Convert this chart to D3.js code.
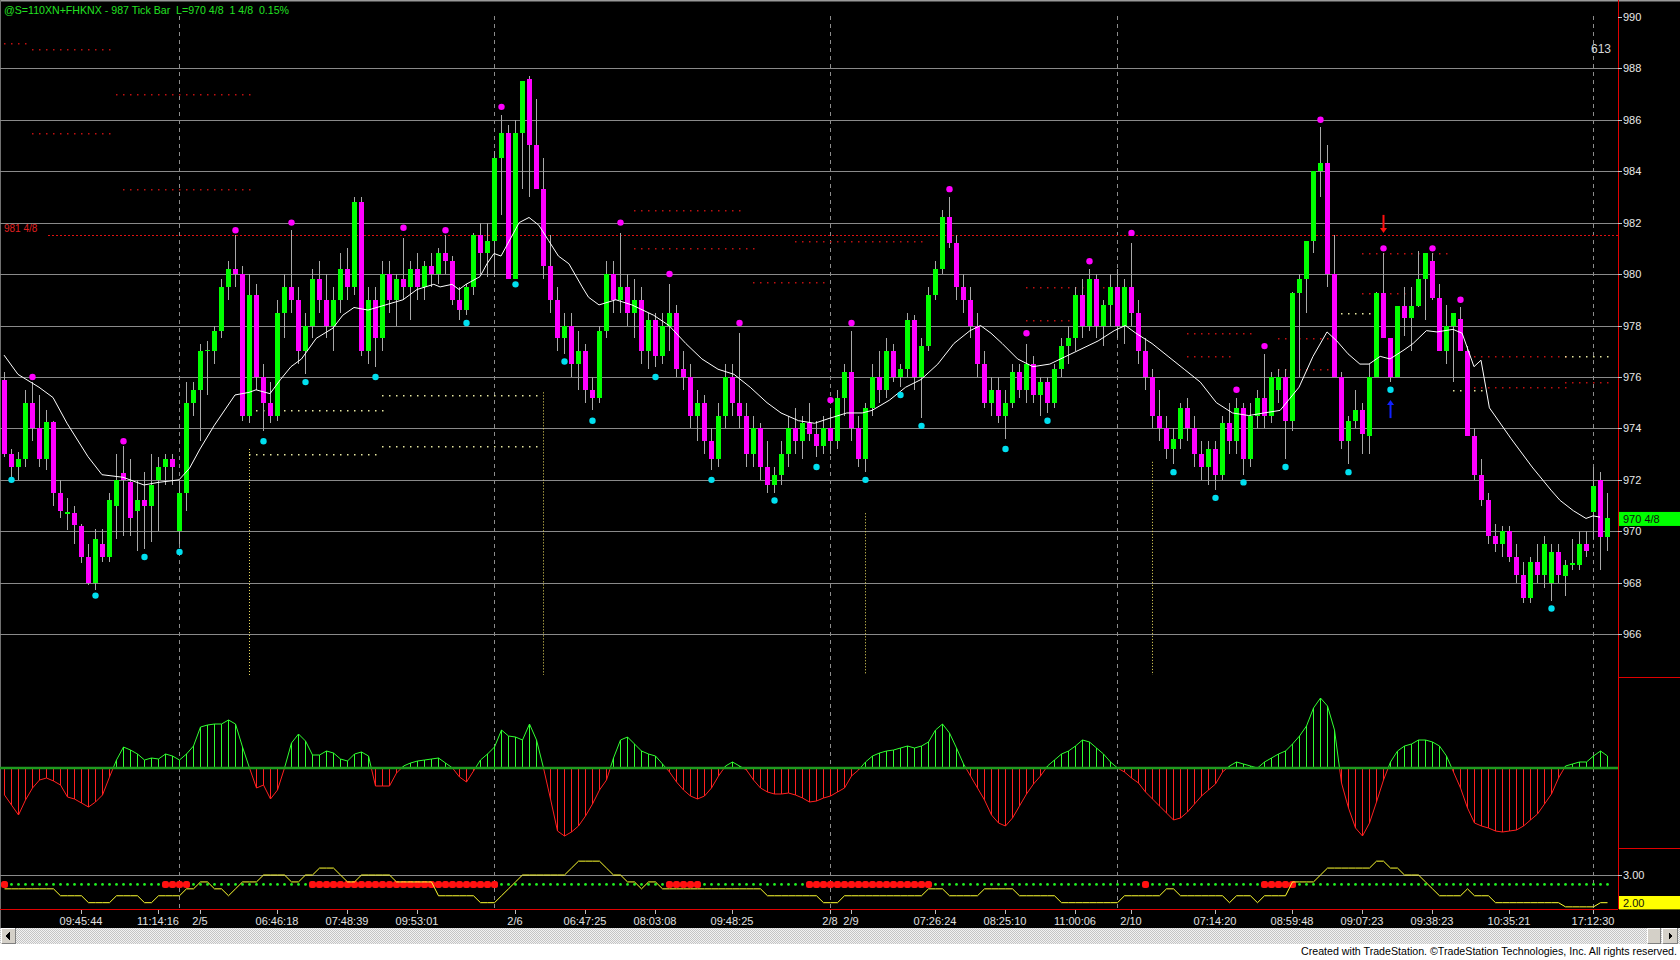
<!DOCTYPE html>
<html><head><meta charset="utf-8">
<script src="https://cdn.jsdelivr.net/npm/d3@7"></script>
<style>body{margin:0;background:#000;overflow:hidden}svg{display:block}text{white-space:pre}</style>
</head><body>
<svg id="chart" width="1680" height="960"></svg>
<script>
// ---------------- DATA ----------------
const title = "@S=110XN+FHKNX - 987 Tick Bar  L=970 4/8  1 4/8  0.15%";
const opens = [
975.9,973.0,972.5,972.8,975.0,974.0,972.8,974.25,971.5,970.7,
970.7,970.2,969.0,968.0,969.5,969.0,971.0,972.25,971.9,970.8,
971.2,971.0,972.0,972.5,972.8,970.0,971.5,975.0,975.5,977.0,
977.0,977.8,979.5,980.2,980.0,974.5,979.2,976.0,975.0,974.5,
978.5,979.5,979.0,977.0,978.0,979.8,979.0,978.0,979.0,980.2,
979.5,982.8,977.0,979.0,977.5,980.0,979.0,979.8,979.5,980.2,
979.5,980.3,980.0,980.8,980.5,979.0,978.6,979.5,981.5,980.8,
981.3,984.5,985.5,979.8,985.5,987.6,985.0,983.3,980.3,979.0,
977.5,978.0,976.5,977.0,975.5,975.2,977.8,980.0,979.0,979.5,
978.5,979.0,977.0,978.2,976.8,978.0,978.5,976.3,976.0,974.5,
975.0,973.5,972.8,974.5,976.0,975.0,974.5,973.0,974.0,972.5,
971.8,972.2,973.0,974.0,973.5,974.2,973.8,973.3,974.0,973.5,
975.2,976.2,974.0,972.8,974.8,976.0,975.5,977.0,976.0,976.3,
978.2,976.0,977.2,979.2,980.2,982.2,981.2,979.5,979.0,978.0,
976.5,975.0,975.5,974.5,975.0,976.2,975.5,976.5,975.3,975.8,
975.0,976.3,977.2,977.5,979.2,978.0,979.8,978.0,978.8,979.5,
978.0,979.5,978.5,977.0,976.0,974.5,974.0,973.2,973.6,974.8,
974.0,973.0,972.5,973.2,972.2,974.2,973.5,974.8,972.8,974.5,
975.2,974.5,975.5,976.0,974.3,979.25,979.8,981.3,984.0,984.3,
980.0,976.0,973.5,974.3,974.7,973.7,976.0,979.25,977.5,976.0,
978.75,978.3,978.75,979.8,980.5,979.05,977.0,978.0,978.25,977.0,
973.7,972.2,971.2,969.8,969.5,970.0,969.0,968.3,967.4,968.8,
968.3,968.0,969.2,968.25,968.7,968.7,969.5,970.76,972.0,969.76];
const highs = [
976.2,973.2,973.1,975.5,975.8,975.3,974.7,974.3,972.0,971.3,
971.0,970.3,969.5,970.1,970.1,971.5,973.0,973.3,972.8,972.0,
972.3,973.0,972.9,973.0,973.0,972.0,975.8,975.8,977.3,977.4,
978.0,979.8,980.5,981.5,980.3,980.0,979.6,976.5,975.8,979.0,
980.0,981.7,979.5,978.5,980.2,980.5,980.0,979.5,980.8,981.0,
983.0,983.0,979.5,979.5,980.5,980.5,980.0,981.4,980.5,980.8,
980.5,980.8,981.0,981.5,980.7,979.5,979.6,981.6,982.0,982.0,
984.8,986.2,985.8,986.0,987.5,987.7,986.8,984.5,981.5,979.5,
978.5,978.5,977.8,977.3,976.0,978.0,980.5,980.5,981.6,980.0,
979.8,979.5,978.5,978.5,978.5,979.6,978.8,977.0,976.5,975.5,
975.3,974.0,975.0,976.5,976.5,977.7,975.0,974.5,974.2,973.5,
972.5,973.5,974.5,974.8,974.5,975.0,974.3,974.5,974.8,975.5,
976.5,977.8,974.5,975.0,976.5,977.0,977.5,977.3,976.5,978.5,
978.4,977.5,979.5,980.5,982.5,983.0,981.5,980.0,979.5,978.5,
977.0,976.0,976.0,975.5,976.5,976.5,977.3,976.8,976.0,976.0,
976.5,977.5,978.0,979.5,979.8,980.2,980.0,979.0,980.0,980.2,
979.8,981.2,979.0,977.5,976.3,975.5,974.5,974.0,975.0,975.2,
974.5,973.5,973.5,973.5,974.5,975.0,975.2,975.0,975.0,975.5,
976.9,976.2,976.3,976.3,979.3,980.0,981.3,984.0,985.7,985.0,
981.5,976.2,974.5,975.5,975.0,976.5,979.3,980.8,977.5,978.75,
979.5,979.5,980.9,980.8,980.8,979.6,978.8,978.5,978.7,977.2,
974.0,972.8,971.5,970.3,970.2,970.2,969.5,968.8,969.0,969.5,
969.8,969.5,969.5,968.9,969.7,970.0,970.0,972.5,972.3,971.5];
const lows = [
972.9,972.1,972.0,972.5,973.5,972.5,972.4,971.0,970.5,970.05,
969.5,968.75,967.9,967.7,968.8,968.8,969.7,969.8,969.8,969.25,
969.3,969.6,970.0,971.8,971.8,969.5,970.8,974.5,973.5,975.3,
976.5,977.5,979.0,979.5,974.3,974.2,975.5,973.9,974.2,974.3,
977.5,978.5,976.5,976.1,977.5,978.5,977.5,977.0,978.5,979.0,
979.2,976.8,976.5,976.4,977.0,978.5,978.0,979.0,978.2,979.0,
979.0,979.5,979.6,980.0,978.8,978.2,978.4,979.2,980.0,979.9,
979.9,982.3,979.8,979.8,983.3,983.0,983.3,979.8,978.5,977.0,
976.9,976.0,975.5,975.0,974.7,975.0,977.5,978.5,978.5,978.0,
977.5,976.5,976.3,976.4,976.5,977.0,976.0,975.5,974.0,973.5,
973.0,972.4,972.5,974.0,974.5,974.0,972.5,972.5,972.0,971.5,
971.5,971.8,972.5,973.0,972.8,973.5,972.9,973.0,973.0,973.2,
974.5,973.5,972.5,972.3,974.5,975.0,975.2,975.8,975.6,976.0,
975.5,974.4,977.0,979.0,980.0,981.0,979.0,978.5,977.5,976.0,
974.8,974.5,974.2,973.6,974.8,975.2,975.0,975.0,974.5,974.6,
974.8,976.0,976.5,977.0,977.5,977.8,977.5,977.2,978.0,977.5,
977.3,978.0,976.5,975.5,974.0,973.5,972.8,972.6,973.2,973.5,
972.5,972.0,971.8,971.6,972.0,973.0,973.0,972.2,972.5,974.0,
974.0,974.2,975.0,972.8,973.9,976.0,978.5,980.8,983.0,979.5,
976.0,973.2,972.6,974.0,973.0,973.0,976.0,977.5,975.8,976.0,
977.6,977.0,978.7,978.2,979.0,977.0,976.5,975.8,977.0,973.7,
972.0,971.0,969.5,969.2,969.0,968.8,968.0,967.2,967.2,968.0,
967.8,967.3,968.0,967.5,968.5,968.5,969.0,969.7,968.5,969.25];
const closes = [
973.0,972.5,972.8,975.0,974.0,972.8,974.25,971.5,970.8,970.75,
970.25,969.0,968.0,969.7,969.0,971.2,972.0,972.0,970.5,971.2,
971.0,971.8,972.5,972.8,972.5,971.5,975.0,975.5,977.0,977.05,
977.8,979.5,980.2,980.0,974.5,979.2,976.0,975.0,974.5,978.5,
979.5,979.0,977.0,978.0,979.8,979.0,978.0,979.0,980.2,979.5,
982.8,977.0,979.0,977.5,980.0,979.0,979.8,979.5,980.2,979.5,
980.3,980.0,980.8,980.5,979.0,978.6,979.5,981.5,980.8,981.3,
984.5,985.5,979.8,985.5,987.5,985.0,983.3,980.3,979.0,977.5,
978.0,976.5,977.0,975.5,975.2,977.8,980.0,979.0,979.5,978.5,
979.0,977.0,978.2,976.8,978.0,978.5,976.3,976.0,974.5,975.0,
973.5,972.8,974.5,976.0,975.0,974.5,973.0,974.0,972.5,971.8,
972.2,973.0,974.0,973.5,974.2,973.8,973.3,974.0,973.5,975.2,
976.2,974.0,972.8,974.8,976.0,975.5,977.0,976.0,976.3,978.2,
976.0,977.2,979.2,980.2,982.2,981.2,979.5,979.0,978.0,976.5,
975.0,975.5,974.5,975.0,976.2,975.5,976.5,975.3,975.8,975.0,
976.3,977.2,977.5,979.2,978.0,979.8,978.0,978.8,979.5,978.0,
979.5,978.5,977.0,976.0,974.5,974.0,973.2,973.6,974.8,974.0,
973.0,972.5,973.2,972.2,974.2,973.5,974.8,972.8,974.5,975.2,
974.5,976.0,976.0,974.3,979.25,979.8,981.3,984.0,984.3,980.0,
976.0,973.5,974.3,974.7,973.8,976.0,979.25,977.5,976.0,978.75,
978.3,978.75,979.8,980.8,979.05,977.0,978.0,978.5,977.0,973.7,
972.2,971.2,969.8,969.5,970.0,969.0,968.3,967.4,968.8,968.3,
969.5,969.2,968.3,968.7,968.75,969.5,969.25,971.76,969.76,970.5];

// moving average: [bar, price]
const maPoints = [
[0,976.85],[2,976.1],[5,975.6],[7,975.2],[9,974.2],[12,972.9],[14,972.2],[17,972.1],[20,971.8],[22,971.9],
[25,972.0],[26.5,972.45],[28,973.2],[30,974.1],[33,975.3],[35,975.4],[36,975.5],[38,975.35],[39.5,975.9],[41,976.4],
[42.5,976.7],[44.6,977.5],[47,977.9],[48.4,978.4],[50,978.7],[52,978.6],[54.5,978.8],[57,979.0],[59,979.4],[61.4,979.6],
[62.3,979.5],[64,979.6],[65,979.4],[66,979.6],[68,979.9],[69,980.4],[70,980.8],[71,980.7],[72,981.2],[73.6,982.0],
[75,982.2],[76.4,981.9],[77.8,981.3],[79.2,980.7],[80.7,980.4],[82.6,979.5],[83.5,979.1],[85,978.8],[87.4,979.0],[89.7,978.8],
[92.8,978.4],[95,978.0],[97.4,977.3],[99.7,976.7],[102,976.3],[104.3,976.1],[106.6,975.6],[109,975.0],[111,974.6],[113.5,974.3],
[115.8,974.2],[118,974.4],[120.4,974.6],[122.6,974.6],[124,974.7],[126.5,975.1],[128.8,975.6],[131,975.9],[133.4,976.5],[135.7,977.3],
[138,977.8],[139.5,978.0],[141,977.7],[142.6,977.3],[144.8,976.7],[147,976.4],[149.4,976.5],[151.7,976.8],[154,977.1],[156.3,977.4],
[158.6,977.8],[160.2,978.0],[161.7,977.7],[164,977.3],[166.3,976.8],[168.6,976.3],[170.9,975.8],[173.2,975.0],[175.5,974.6],[177.8,974.5],
[180,974.6],[182.3,974.7],[185,975.6],[187,976.8],[189,977.75],[190.4,977.4],[192,976.9],[193.7,976.5],[195,976.5],[196.6,976.8],
[198,976.7],[200,977.05],[201.3,977.3],[203.2,977.8],[204.7,977.75],[207,977.85],[208.3,977.7],[210,976.4],[211,976.65],[212.2,974.8],
[215.3,973.6],[218.3,972.5],[221,971.6],[222.3,971.2],[224.2,970.8],[226,970.5],[227,970.6],[228,970.55]];

// swing markers [bar, price]
const swingHighs = [[4,976.0],[17,973.5],[33,981.7],[41,982.0],[57,981.8],[63,981.7],[71,986.5],[88,982.0],[95,980.0],[105,978.1],
[118,975.1],[121,978.1],[135,983.3],[146,977.7],[155,980.5],[161,981.6],[176,975.5],[180,977.2],[188,986.0],[197,981.0],[204,981.0],[208,979.0]];
const swingLows = [[1,972.0],[13,967.5],[20,969.0],[25,969.2],[37,973.5],[43,975.8],[53,976.0],[66,978.1],[73,979.6],[80,976.6],
[84,974.3],[93,976.0],[101,972.0],[110,971.2],[116,972.5],[123,972.0],[128,975.3],[131,974.1],[143,973.2],[149,974.3],
[167,972.3],[173,971.3],[177,971.9],[183,972.5],[192,972.3],[198,975.5],[221,967.0]];
// signal arrows [bar, tailPrice, tipPrice]
const sellArrows = [[197,982.3,981.6]];
const buyArrows = [[198,974.4,975.1]];

// dotted support / resistance levels [fromBar, toBar, price]
const redLevels = [[0,3,989.0],[4,15,988.75],[16,35,987.0],[4,15,985.5],[17,35,983.3],[90,105,982.5],[90,107,981.0],[107,117,979.7],
[113,131,981.3],[146,160,979.5],[146,156,978.2],[169,178,977.7],[169,175,976.8],[182,189,977.5],[182,189,976.3],[194,206,980.8],
[194,200,979.25],[209,223,976.8],[209,223,975.6],[223,229,975.8]];
const paleLevels = [[35,54,974.7],[35,53,973.0],[54,76,975.3],[54,76,973.3],[191,195,978.5],[207,211,975.5],[223,229,976.8]];
const vertLevels = [[35,973.2],[77,975.4],[123,970.7],[164,972.7]];
const refLine = 981.5, refLabel = "981 4/8";
const lastPrice = 970.5, lastLabel = "970 4/8";
const barCount = "613";

// oscillator, one value per bar
const osc = [
-2.7,-3.7,-4.7,-3.2,-2.0,-1.2,-1.0,-1.3,-1.7,-2.9,
-3.1,-3.5,-3.9,-3.4,-2.7,-0.9,0.8,2.1,1.8,1.4,
0.8,1.0,0.9,1.4,1.2,0.8,1.4,2.2,4.1,4.3,
4.4,4.4,4.8,4.4,2.1,0.0,-2.0,-1.7,-3.1,-2.2,
0.0,2.5,3.4,2.7,1.3,1.3,1.7,1.5,0.9,0.7,
1.4,1.6,1.2,-1.8,-1.8,-1.8,-0.5,0.2,0.5,0.7,
0.8,0.9,1.0,0.5,0.0,-0.9,-1.4,-0.3,0.8,1.4,
2.1,3.8,3.2,3.1,2.8,4.4,2.8,0.0,-3.1,-6.3,
-6.8,-6.4,-5.8,-4.8,-3.6,-2.2,-1.2,1.0,2.8,3.1,
2.4,1.7,1.4,1.2,0.4,-0.4,-1.4,-2.2,-2.8,-3.1,
-2.8,-2.0,-0.8,0.2,0.6,0.2,-0.2,-1.2,-2.0,-2.4,
-2.6,-2.6,-2.5,-2.7,-3.0,-3.4,-3.3,-3.0,-2.8,-2.4,
-2.0,-0.8,-0.2,0.6,1.2,1.5,1.7,1.8,2.0,2.2,
2.0,2.2,2.6,3.8,4.4,3.5,2.0,0.4,-0.8,-2.0,
-3.2,-4.7,-5.5,-5.8,-5.0,-3.8,-2.6,-1.6,-0.8,0.2,
0.8,1.4,1.7,2.2,2.8,2.6,2.0,1.4,0.6,0.0,
-0.4,-1.0,-1.5,-2.4,-3.1,-3.8,-4.5,-5.2,-5.0,-4.4,
-3.6,-2.8,-2.2,-1.6,-0.4,0.2,0.6,0.4,0.2,0.0,
0.6,1.0,1.4,1.7,2.4,3.2,4.2,6.0,7.0,6.2,
3.8,-1.5,-4.0,-6.0,-6.8,-5.5,-3.4,-1.2,0.6,1.7,
2.2,2.4,2.8,2.8,2.6,2.2,1.2,-0.4,-2.0,-4.0,
-5.5,-5.8,-6.0,-6.3,-6.4,-6.3,-6.2,-5.8,-5.2,-4.6,
-3.6,-2.6,-1.0,0.2,0.4,0.6,0.6,1.2,1.7,1.2];

// lower study: stepped line, one value per bar
const stepLine = [
2.5,2.5,2.5,2.5,2.5,2.5,2.5,2.5,2.25,2.25,
2.25,2.25,2,2,2,2,2.25,2.25,2.25,2.25,
2,2,2.25,2.25,2.25,2.25,2.5,2.5,2.75,2.75,
2.5,2.5,2.25,2.5,2.75,2.75,2.75,3,3,3,
3,2.75,2.75,3,3,3.25,3.25,3.25,3,2.75,
2.75,3,3,3,3,3,2.75,2.75,2.75,2.75,
2.75,2.75,2.25,2.25,2.25,2.25,2.25,2.25,2,2,
2,2.25,2.5,2.75,3,3,3,3,3,3,
3,3.25,3.5,3.5,3.5,3.5,3.25,3,3,2.75,
2.75,2.5,2.75,2.75,2.5,2.5,2.5,2.5,2.5,2.5,
2.5,2.5,2.5,2.5,2.5,2.5,2.5,2.5,2.5,2.25,
2.25,2.25,2.25,2.25,2.25,2.25,2.25,2,2,2,
2.25,2.25,2.25,2.25,2.25,2.25,2.25,2.25,2.25,2.25,
2.25,2.25,2.5,2.5,2.5,2.25,2.25,2.25,2.25,2.25,
2.5,2.5,2.5,2.5,2.5,2.25,2.25,2.25,2.25,2.25,
2.25,2,2,2,2,2,2,2,2,2,
2.25,2.25,2.25,2.25,2.25,2.25,2.5,2.5,2.25,2.25,
2.25,2.25,2.25,2.25,2.25,2,2.25,2.25,2.25,2,
2.25,2.25,2.25,2.25,2.75,2.75,2.75,2.75,3,3.25,
3.25,3.25,3.25,3.25,3.25,3.25,3.5,3.5,3.25,3.25,
3,3,3,2.75,2.5,2.25,2.25,2.25,2.25,2.5,
2.25,2.25,2.25,2,2,2,2,2,2,2,
2,2,2,1.85,1.85,1.85,1.85,1.85,2,2];
const dotLevel = 2.66;
// bars where the dotted state is red: [fromBar, toBar]
const redRuns = [[0,0],[23,26],[44,70],[95,99],[115,132],[163,163],[180,184]];

const priceTicks = [990,988,986,984,982,980,978,976,974,972,970,968,966];
const lowerTick = 3.00, lowerLast = 2.00;
const dayBreaks = [25,70,118,159,227];
const timeTickBars = [11,22,28,39,49,59,73,83,93,104,118,121,133,143,153,161,173,184,194,204,215,227];
const timeTickLabels = ["09:45:44","11:14:16","2/5","06:46:18","07:48:39","09:53:01","2/6","06:47:25","08:03:08","09:48:25","2/8","2/9",
"07:26:24","08:25:10","11:00:06","2/10","07:14:20","08:59:48","09:07:23","09:38:23","10:35:21","17:12:30"];
const footer = "Created with TradeStation. \u00A9TradeStation Technologies, Inc. All rights reserved.";

// ---------------- DRAW ----------------
const FONT = '"Liberation Sans", Arial, Helvetica, sans-serif';
const svg = d3.select('#chart');
const AXX = 1618;
const N = closes.length;
const X = d3.scaleLinear().domain([0, 229]).range([4, 1607]);
const Y = d3.scaleLinear().domain([966, 990]).range([634.2, 16.8]);
const YO = d3.scaleLinear().domain([-7, 7]).range([838, 698]);
const YB = d3.scaleLinear().domain([2, 3]).range([902.7, 875]);
const px = v => Math.round(v) + 0.5;

const defs = svg.append('defs');
defs.append('clipPath').attr('id','mainClip').append('rect').attr('x',0).attr('y',0).attr('width',AXX).attr('height',677);
const pat = defs.append('pattern').attr('id','hatch').attr('width',2).attr('height',2).attr('patternUnits','userSpaceOnUse');
pat.append('rect').attr('width',2).attr('height',2).attr('fill','#f2f2f2');
pat.append('rect').attr('width',1).attr('height',1).attr('fill','#c4c4c4');
pat.append('rect').attr('x',1).attr('y',1).attr('width',1).attr('height',1).attr('fill','#c4c4c4');

svg.append('rect').attr('width',1680).attr('height',960).attr('fill','#000');
svg.append('rect').attr('x',0).attr('y',943).attr('width',1680).attr('height',17).attr('fill','#fff');
// frame
svg.append('line').attr('x1',0).attr('x2',1680).attr('y1',0.5).attr('y2',0.5).attr('stroke','#9a9a9a').attr('stroke-width',2);
svg.append('line').attr('x1',0.5).attr('x2',0.5).attr('y1',0).attr('y2',928).attr('stroke','#707070');

// grid
const gGrid = svg.append('g').attr('shape-rendering','crispEdges');
gGrid.selectAll('line.g').data(priceTicks.filter(p => p < 990)).join('line')
  .attr('x1',0).attr('x2',AXX).attr('y1',d=>px(Y(d))).attr('y2',d=>px(Y(d))).attr('stroke','#8a8a8a');
gGrid.append('line').attr('x1',0).attr('x2',AXX).attr('y1',px(YB(lowerTick))).attr('y2',px(YB(lowerTick))).attr('stroke','#8a8a8a');
// day breaks
gGrid.selectAll('line.d').data(dayBreaks).join('line')
  .attr('x1',d=>px(X(d))).attr('x2',d=>px(X(d))).attr('y1',16).attr('y2',909)
  .attr('stroke','#8c8c8c').attr('stroke-dasharray','4,4');

const gMain = svg.append('g').attr('clip-path','url(#mainClip)');
// dotted levels (one dot per bar)
function levelDots(levels, color) {
  const pts = [];
  levels.forEach(([a,b,p]) => { for (let i=a;i<=b;i++) pts.push([i,p]); });
  gMain.append('g').selectAll('rect').data(pts).join('rect')
    .attr('x',d=>Math.round(X(d[0]))).attr('y',d=>Math.round(Y(d[1]))).attr('width',1.5).attr('height',1.5).attr('fill',color);
}
levelDots(redLevels,'#c01010');
levelDots(paleLevels,'#e8e8a0');
gMain.append('g').selectAll('line').data(vertLevels).join('line')
  .attr('x1',d=>px(X(d[0]))).attr('x2',d=>px(X(d[0]))).attr('y1',d=>Y(d[1])).attr('y2',675)
  .attr('stroke','#f0e060').attr('stroke-width',1).attr('stroke-dasharray','1,2');
// reference line
gMain.append('line').attr('x1',48).attr('x2',AXX).attr('y1',px(Y(refLine))).attr('y2',px(Y(refLine)))
  .attr('stroke','#e01010').attr('stroke-dasharray','2,2');
svg.append('text').attr('x',4).attr('y',Y(refLine)-3).attr('fill','#e02020').attr('font-family',FONT).attr('font-size',10).text(refLabel);

// candles
const idx = d3.range(N);
gMain.append('g').attr('shape-rendering','crispEdges').selectAll('line').data(idx).join('line')
  .attr('x1',i=>px(X(i))).attr('x2',i=>px(X(i))).attr('y1',i=>Y(highs[i])).attr('y2',i=>Y(lows[i]))
  .attr('stroke','#a8a8a8');
gMain.append('g').attr('shape-rendering','crispEdges').selectAll('rect').data(idx).join('rect')
  .attr('x',i=>Math.round(X(i))-2).attr('width',5)
  .attr('y',i=>Y(Math.max(opens[i],closes[i])))
  .attr('height',i=>Math.max(1.5, Math.abs(Y(opens[i])-Y(closes[i]))))
  .attr('fill',i=>closes[i]>=opens[i] ? '#00ff00' : '#ff00ff');
// MA
gMain.append('path').datum(maPoints).attr('fill','none').attr('stroke','#ffffff').attr('stroke-width',1)
  .attr('d', d3.line().x(d=>X(d[0])).y(d=>Y(d[1])));
// swing markers
gMain.append('g').selectAll('circle').data(swingHighs).join('circle')
  .attr('cx',d=>X(d[0])+0.5).attr('cy',d=>Y(d[1])).attr('r',3.2).attr('fill','#ff00ff');
gMain.append('g').selectAll('circle').data(swingLows).join('circle')
  .attr('cx',d=>X(d[0])+0.5).attr('cy',d=>Y(d[1])).attr('r',3.2).attr('fill','#00e0f0');
// arrows
function arrow(list, color) {
  list.forEach(([b,tail,tip]) => {
    const xx = X(b)+0.5, y0 = Y(tail), y1 = Y(tip), dir = Math.sign(y1-y0);
    gMain.append('line').attr('x1',xx).attr('x2',xx).attr('y1',y0).attr('y2',y1-dir*4).attr('stroke',color).attr('stroke-width',2);
    gMain.append('path').attr('d',`M${xx-3.5},${y1-dir*5}L${xx+3.5},${y1-dir*5}L${xx},${y1}Z`).attr('fill',color);
  });
}
arrow(sellArrows,'#ff1010');
arrow(buyArrows,'#1020ff');

// oscillator
const gOsc = svg.append('g');
gOsc.append('g').attr('shape-rendering','crispEdges').selectAll('line').data(idx).join('line')
  .attr('x1',i=>px(X(i))).attr('x2',i=>px(X(i))).attr('y1',YO(0)).attr('y2',i=>YO(osc[i]))
  .attr('stroke',i=>osc[i]>=0 ? '#30ff30' : '#ff2020');
for (let i=0;i<N-1;i++) {
  const a = osc[i], b = osc[i+1];
  const x0 = X(i)+0.5, x1 = X(i+1)+0.5;
  if ((a>=0) === (b>=0)) {
    gOsc.append('line').attr('x1',x0).attr('x2',x1).attr('y1',YO(a)).attr('y2',YO(b)).attr('stroke',a>=0?'#30ff30':'#ff2020');
  } else {
    const t = a/(a-b), xm = x0 + (x1-x0)*t;
    gOsc.append('line').attr('x1',x0).attr('x2',xm).attr('y1',YO(a)).attr('y2',YO(0)).attr('stroke',a>=0?'#30ff30':'#ff2020');
    gOsc.append('line').attr('x1',xm).attr('x2',x1).attr('y1',YO(0)).attr('y2',YO(b)).attr('stroke',b>=0?'#30ff30':'#ff2020');
  }
}
gOsc.append('line').attr('x1',0).attr('x2',AXX).attr('y1',YO(0)).attr('y2',YO(0)).attr('stroke','#1f9a1f').attr('stroke-width',2.5);

// lower study
const isRed = i => redRuns.some(([a,b]) => i>=a && i<=b);
const gLow = svg.append('g');
gLow.selectAll('circle').data(idx.filter(i=>!isRed(i))).join('circle')
  .attr('cx',i=>X(i)+0.5).attr('cy',YB(dotLevel)).attr('r',1.4).attr('fill','#20f020');
gLow.append('g').selectAll('rect').data(idx.filter(isRed)).join('rect')
  .attr('x',i=>X(i)-3).attr('y',YB(dotLevel)-3.5).attr('width',7).attr('height',7).attr('rx',2.5).attr('fill','#ff1010');
gLow.append('path').datum(idx).attr('fill','none').attr('stroke','#ffff30').attr('stroke-width',1)
  .attr('d', d3.line().x(i=>X(i)+0.5).y(i=>YB(stepLine[i])));

// right axis
const gAx = svg.append('g').attr('shape-rendering','crispEdges');
gAx.append('line').attr('x1',AXX+0.5).attr('x2',AXX+0.5).attr('y1',0).attr('y2',909).attr('stroke','#e00000');
gAx.append('line').attr('x1',AXX).attr('x2',1680).attr('y1',677.5).attr('y2',677.5).attr('stroke','#e00000');
gAx.append('line').attr('x1',AXX).attr('x2',1680).attr('y1',848.5).attr('y2',848.5).attr('stroke','#e00000');
gAx.append('line').attr('x1',0).attr('x2',AXX).attr('y1',909.5).attr('y2',909.5).attr('stroke','#e00000');
gAx.selectAll('line.t').data(priceTicks).join('line')
  .attr('x1',AXX).attr('x2',AXX+4).attr('y1',d=>px(Y(d))).attr('y2',d=>px(Y(d))).attr('stroke','#c8c8c8');
svg.append('g').selectAll('text').data(priceTicks).join('text')
  .attr('x',AXX+5).attr('y',d=>Y(d)+4).attr('fill','#e8e8e8').attr('font-family',FONT).attr('font-size',11).text(d=>d);
// last price box
svg.append('rect').attr('x',AXX+1).attr('y',Y(lastPrice)-6.5).attr('width',62).attr('height',14).attr('fill','#00ff00');
svg.append('text').attr('x',AXX+5).attr('y',Y(lastPrice)+4.5).attr('fill','#101010').attr('font-family',FONT).attr('font-size',11).text(lastLabel);
// lower axis
gAx.append('line').attr('x1',AXX).attr('x2',AXX+4).attr('y1',px(YB(lowerTick))).attr('y2',px(YB(lowerTick))).attr('stroke','#c8c8c8');
svg.append('text').attr('x',AXX+5).attr('y',YB(lowerTick)+4).attr('fill','#e8e8e8').attr('font-family',FONT).attr('font-size',11).text(lowerTick.toFixed(2));
svg.append('rect').attr('x',AXX+1).attr('y',YB(lowerLast)-6.7).attr('width',62).attr('height',13.4).attr('fill','#ffff00');
svg.append('text').attr('x',AXX+5).attr('y',YB(lowerLast)+4.3).attr('fill','#101010').attr('font-family',FONT).attr('font-size',11).text(lowerLast.toFixed(2));

// time axis
gAx.selectAll('line.tt').data(timeTickBars).join('line')
  .attr('x1',d=>px(X(d))).attr('x2',d=>px(X(d))).attr('y1',910).attr('y2',914).attr('stroke','#c0c0c0');
svg.append('g').selectAll('text').data(timeTickBars).join('text')
  .attr('x',d=>X(d)).attr('y',925).attr('text-anchor','middle').attr('fill','#e0e0e0')
  .attr('font-family',FONT).attr('font-size',11).text((d,i)=>timeTickLabels[i]);

// scrollbar
svg.append('rect').attr('x',0).attr('y',928).attr('width',1680).attr('height',16).attr('fill','url(#hatch)');
function button(x0, w) {
  const g = svg.append('g').attr('shape-rendering','crispEdges');
  g.append('rect').attr('x',x0).attr('y',928).attr('width',w).attr('height',16).attr('fill','#d4d0c8');
  g.append('path').attr('d',`M${x0+0.5},943V928.5H${x0+w-0.5}`).attr('fill','none').attr('stroke','#ffffff');
  g.append('path').attr('d',`M${x0+0.5},943.5H${x0+w-0.5}V928`).attr('fill','none').attr('stroke','#808080');
  return g;
}
button(1,15).append('path').attr('d','M5.5,936L9.5,932V940Z').attr('fill','#000');
button(1647,14);
button(1662,16).append('path').attr('d','M1672.5,936L1668.5,932V940Z').attr('fill','#000');

svg.append('text').attr('x',1677).attr('y',955).attr('text-anchor','end').attr('fill','#000')
  .attr('font-family',FONT).attr('font-size',10.5).attr('textLength',376).attr('lengthAdjust','spacingAndGlyphs').text(footer);

// header texts
svg.append('text').attr('x',4).attr('y',14).attr('fill','#22e022').attr('font-family',FONT).attr('font-size',11.5)
  .attr('textLength',285).attr('lengthAdjust','spacingAndGlyphs').text(title);
svg.append('text').attr('x',1611).attr('y',53).attr('text-anchor','end').attr('fill','#d8d8d8').attr('font-family',FONT).attr('font-size',12).text(barCount);
</script>
</body></html>
